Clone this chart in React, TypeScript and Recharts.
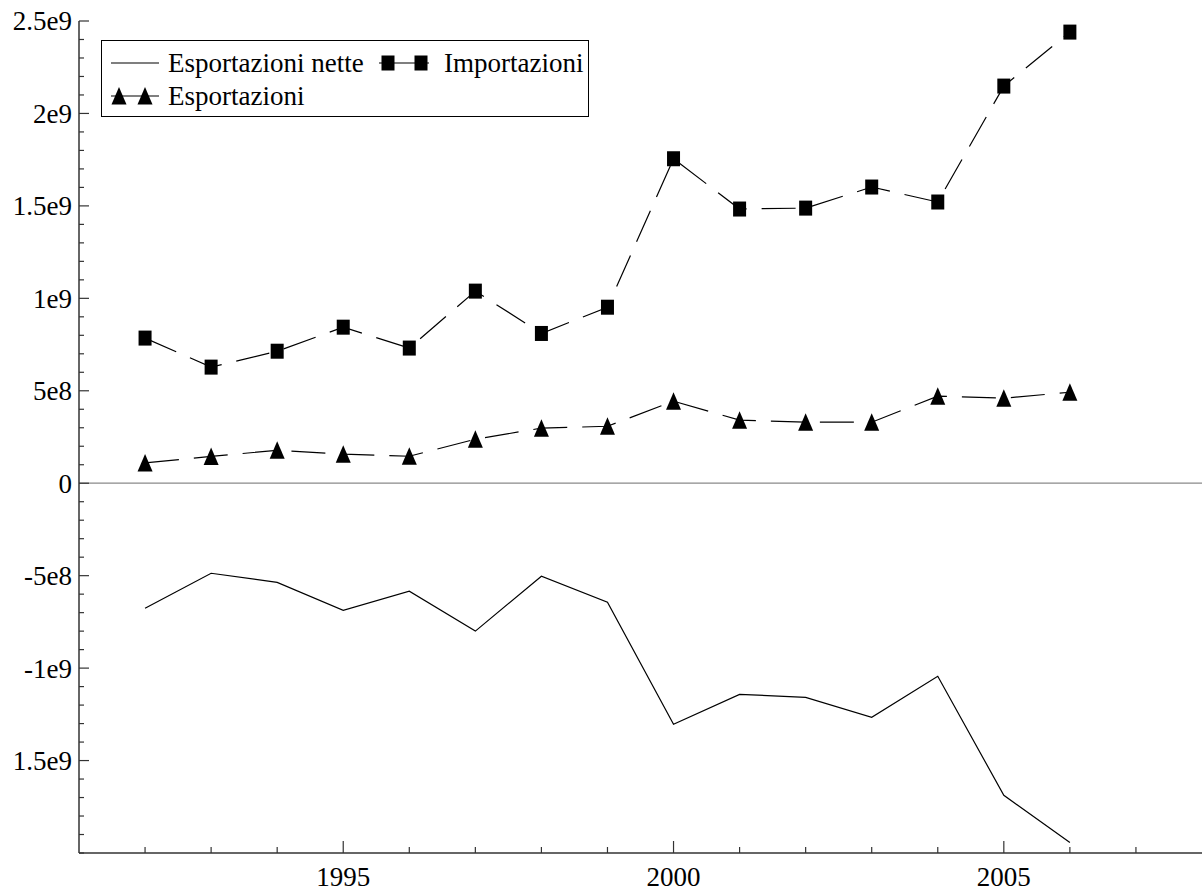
import { LineChart, Line, XAxis, YAxis, ReferenceLine, Legend } from "recharts";

const YEARS = [1992, 1993, 1994, 1995, 1996, 1997, 1998, 1999, 2000, 2001, 2002, 2003, 2004, 2005, 2006];
// values in units of 1e9
const IMPORTS = [0.785, 0.628, 0.714, 0.844, 0.731, 1.039, 0.81, 0.952, 1.755, 1.483, 1.488, 1.602, 1.521, 2.148, 2.44];
const EXPORTS = [0.11, 0.145, 0.178, 0.157, 0.146, 0.238, 0.298, 0.308, 0.444, 0.341, 0.33, 0.33, 0.471, 0.46, 0.492];
const NET = [-0.676, -0.487, -0.536, -0.687, -0.584, -0.8, -0.503, -0.644, -1.304, -1.142, -1.158, -1.266, -1.044, -1.688, -1.943];

const Y_MAJOR = [2.5e9, 2e9, 1.5e9, 1e9, 5e8, 0, -5e8, -1e9, -1.5e9];
// the original shows the -1.5e9 tick without its minus sign
const Y_LABELS = ["2.5e9", "2e9", "1.5e9", "1e9", "5e8", "0", "-5e8", "-1e9", "1.5e9"];
const X_MAJOR = [1995, 2000, 2005];
const X_TICKS = [1992, 1993, 1994, 1995, 1996, 1997, 1998, 1999, 2000, 2001, 2002, 2003, 2004, 2005, 2006, 2007];

const data = YEARS.map((year, i) => ({
  year,
  net: NET[i] * 1e9,
  imp: IMPORTS[i] * 1e9,
  exp: EXPORTS[i] * 1e9,
}));

// minor ticks every 1e8
const yTicks: number[] = [];
for (let i = -20; i <= 25; i++) yTicks.push(i * 1e8);

const FONT = "Liberation Serif, Times New Roman, Times, DejaVu Serif, serif";
const AXIS = "#333";
const txt = { fontFamily: FONT, fontSize: 27, fill: "#000" };

function YTick(props: any) {
  const { x, y, payload } = props;
  const idx = Y_MAJOR.findIndex((v) => Math.abs(v - payload.value) < 1);
  const major = idx >= 0;
  return (
    <g>
      <line x1={x} x2={x + (major ? 10 : 5)} y1={y} y2={y} stroke={AXIS} strokeWidth={1.2} />
      {major && (
        <text x={x - 7} y={y} dy="0.35em" textAnchor="end" style={txt}>
          {Y_LABELS[idx]}
        </text>
      )}
    </g>
  );
}

function XTick(props: any) {
  const { x, y, payload } = props;
  const major = X_MAJOR.includes(payload.value);
  return (
    <g>
      <line x1={x} x2={x} y1={y} y2={y - (major ? 12 : 6)} stroke={AXIS} strokeWidth={1.2} />
      {major && (
        <text x={x} y={y + 33} textAnchor="middle" style={txt}>
          {payload.value}
        </text>
      )}
    </g>
  );
}

const Square = (cx: number, cy: number, key?: any) => (
  <rect key={key} x={cx - 6.5} y={cy - 7.5} width={13} height={15} fill="#000" />
);

const Triangle = (cx: number, cy: number, key?: any) => (
  <polygon key={key} points={`${cx},${cy - 9} ${cx - 7.5},${cy + 8.5} ${cx + 7.5},${cy + 8.5}`} fill="#000" />
);

function LegendBox() {
  return (
    <svg width={488} height={77} style={{ display: "block" }}>
      <rect x={0.5} y={0.5} width={487} height={76} fill="#fff" stroke="#000" strokeWidth={1} />
      <line x1={10} x2={58} y1={23} y2={23} stroke="#000" strokeWidth={1.2} />
      <text x={67} y={32} style={txt}>Esportazioni nette</text>
      <line x1={278} x2={328} y1={23} y2={23} stroke="#000" strokeWidth={1.2} />
      {Square(287, 23)}
      {Square(320, 23)}
      <text x={343} y={32} style={txt}>Importazioni</text>
      <line x1={10} x2={58} y1={56} y2={56} stroke="#000" strokeWidth={1.2} />
      {Triangle(18, 56)}
      {Triangle(44, 56)}
      <text x={67} y={65} style={txt}>Esportazioni</text>
    </svg>
  );
}

export default function App() {
  return (
    <div style={{ position: "absolute", left: 0, top: 0, width: 1202, height: 893, background: "#fff", fontFamily: FONT }}>
      <LineChart width={1202} height={893} data={data} margin={{ top: 21, right: 0, bottom: 0, left: 0 }}>
        <XAxis
          type="number"
          dataKey="year"
          domain={[1991, 2008]}
          ticks={X_TICKS}
          interval={0}
          height={40}
          tickSize={0}
          tickMargin={0}
          tickLine={false}
          tick={<XTick />}
          axisLine={{ stroke: AXIS, strokeWidth: 1.5 }}
        />
        <YAxis
          type="number"
          domain={[-2e9, 2.5e9]}
          ticks={yTicks}
          interval={0}
          width={79}
          tickSize={0}
          tickMargin={0}
          tickLine={false}
          tick={<YTick />}
          axisLine={{ stroke: AXIS, strokeWidth: 1.5 }}
        />
        <ReferenceLine y={0} stroke="#8a8a8a" strokeWidth={1.2} />
        <Legend
          layout="horizontal"
          verticalAlign="middle"
          align="center"
          wrapperStyle={{ left: 101, top: 40, width: 488, height: 77 }}
          content={() => <LegendBox />}
        />
        <Line
          dataKey="net"
          stroke="#000"
          strokeWidth={1.2}
          dot={false}
          activeDot={false}
          isAnimationActive={false}
        />
        <Line
          dataKey="imp"
          stroke="#000"
          strokeWidth={1.2}
          strokeDasharray="34 15"
          dot={(p: any) => Square(p.cx, p.cy, p.index)}
          activeDot={false}
          isAnimationActive={false}
        />
        <Line
          dataKey="exp"
          stroke="#000"
          strokeWidth={1.2}
          strokeDasharray="34 15"
          dot={(p: any) => Triangle(p.cx, p.cy, p.index)}
          activeDot={false}
          isAnimationActive={false}
        />
      </LineChart>
    </div>
  );
}
